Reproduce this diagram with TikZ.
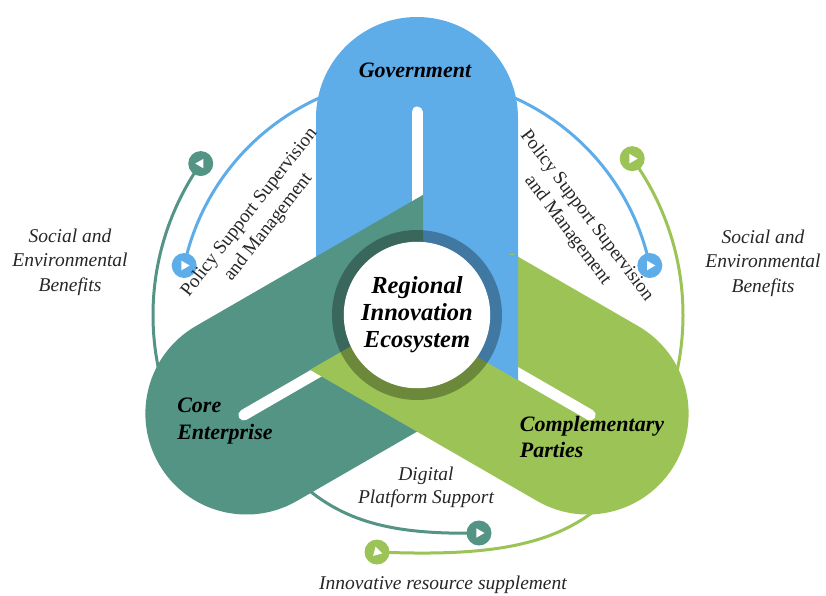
\documentclass[tikz,border=0pt]{standalone}
\usepackage{fontspec}
\setmainfont{Liberation Serif}
\usetikzlibrary{shapes.geometric}

\definecolor{govblue}{RGB}{94,173,233}
\definecolor{coreteal}{RGB}{83,148,133}
\definecolor{compgreen}{RGB}{156,195,85}

\begin{document}
\begin{tikzpicture}[x=1pt, y=1pt,
    flow/.style = {line width=3pt},
    bubble/.style = {circle, fill=#1, minimum size=25pt, inner sep=0pt},
    tri/.style = {regular polygon, regular polygon sides=3, fill=white, minimum size=11pt, inner sep=0pt},
    midline/.style = {white, line width=11pt, line cap=round},
    armlabel/.style = {font=\fontsize{22}{26.5}\selectfont\bfseries\itshape, align=left},
    centre/.style = {font=\fontsize{24.5}{27}\selectfont\bfseries\itshape, align=center},
    note/.style = {font=\fontsize{19.5}{24.5}\selectfont\itshape, align=center, text=black!85},
    policy/.style = {font=\fontsize{19}{24}\selectfont, align=center, text=black!85}]

\useasboundingbox (-417,-280) rectangle (409,315);
\coordinate (O) at (0,0);

% where the flows start and end
\coordinate (bl) at (168:238);
\coordinate (br) at (12:238);
\coordinate (tl) at (145:264);
\coordinate (gr) at (36:266);
\coordinate (tb) at (62,-218);
\coordinate (gb) at (-40,-237);
\coordinate (ts) at (-125,-160);
\coordinate (gs) at (200,-175);

% flows, drawn first so the arms hide their ends
\draw[flow, govblue] (bl) arc[start angle=168, end angle=95, radius=238];
\draw[flow, govblue] (br) arc[start angle=12, end angle=85, radius=238];
\draw[flow, coreteal] (tl) arc[start angle=145, end angle=205, radius=264];
\draw[flow, compgreen] (gr) arc[start angle=36, end angle=-25, radius=266];
\draw[flow, coreteal] (ts) .. controls (-80,-205) and (-30,-220) .. (tb);
\draw[flow, compgreen] (gb) .. controls (80,-242) and (150,-230) .. (gs);

% government arm
\begin{scope}
  \clip[rotate=-30] (-600,-6) rectangle (600,600);
  \fill[govblue, rotate=90] (-160,-101) -- (197,-101) arc[start angle=-90, end angle=90, radius=101] -- (-160,101) -- cycle;
  \draw[midline] (90:203) -- (90:100);
\end{scope}

% core enterprise arm
\begin{scope}
  \clip (-600,-600) rectangle (6,600);
  \fill[coreteal, rotate=210] (-160,-101) -- (197,-101) arc[start angle=-90, end angle=90, radius=101] -- (-160,101) -- cycle;
  \draw[midline] (210:200) -- (210:100);
\end{scope}

% complementary parties arm
\begin{scope}
  \clip[rotate=30] (-600,-600) rectangle (600,6);
  \fill[compgreen, rotate=330] (-160,-101) -- (197,-101) arc[start angle=-90, end angle=90, radius=101] -- (-160,101) -- cycle;
  \draw[midline] (330:200) -- (330:100);
\end{scope}

% blue foot goes back over the green one
\begin{scope}
  \clip[rotate=-30] (-600,-6) rectangle (600,600);
  \clip (0,-600) rectangle (600,60);
  \fill[govblue, rotate=90] (-160,-101) -- (197,-101) arc[start angle=-90, end angle=90, radius=101] -- (-160,101) -- cycle;
\end{scope}

% hub
\draw[black, opacity=0.3, line width=12pt] (O) circle (79);
\fill[white] (O) circle (73.2);
\node[centre] (eco) at (0,0) {Regional\\Innovation\\Ecosystem};

% markers
\node[bubble=govblue] (blm) at (bl) {};
\node[tri, rotate=-90] (blt) at (blm) {};
\node[bubble=govblue] (brm) at (br) {};
\node[tri, rotate=-90] (brt) at (brm) {};
\node[bubble=coreteal] (tlm) at (tl) {};
\node[tri, rotate=90] (tlt) at (tlm) {};
\node[bubble=compgreen] (grm) at (gr) {};
\node[tri, rotate=-90] (grt) at (grm) {};
\node[bubble=coreteal] (tbm) at (tb) {};
\node[tri, rotate=-90] (tbt) at (tbm) {};
\node[bubble=compgreen] (gbm) at (gb) {};
\node[tri, rotate=135] (gbt) at (gbm) {};

% labels
\node[armlabel] (gov) at (-2,245) {Government};
\node[armlabel] (core) at (-192,-106) {Core\\Enterprise};
\node[armlabel] (comp) at (175,-122) {Complementary\\Parties};
\node[note] (socl) at (-347,53) {Social and\\Environmental\\Benefits};
\node[note] (socr) at (346,52) {Social and\\Environmental\\Benefits};
\node[note, font=\fontsize{19.5}{23}\selectfont\itshape] (dps) at (9,-172) {Digital\\Platform Support};
\node[note] (irs) at (26,-270) {Innovative resource supplement};
\node[policy, rotate=52] (poll) at (-158,95) {Policy Support Supervision\\and Management};
\node[policy, rotate=-53] (polr) at (160,92) {Policy Support Supervision\\and Management};
\end{tikzpicture}
\end{document}
